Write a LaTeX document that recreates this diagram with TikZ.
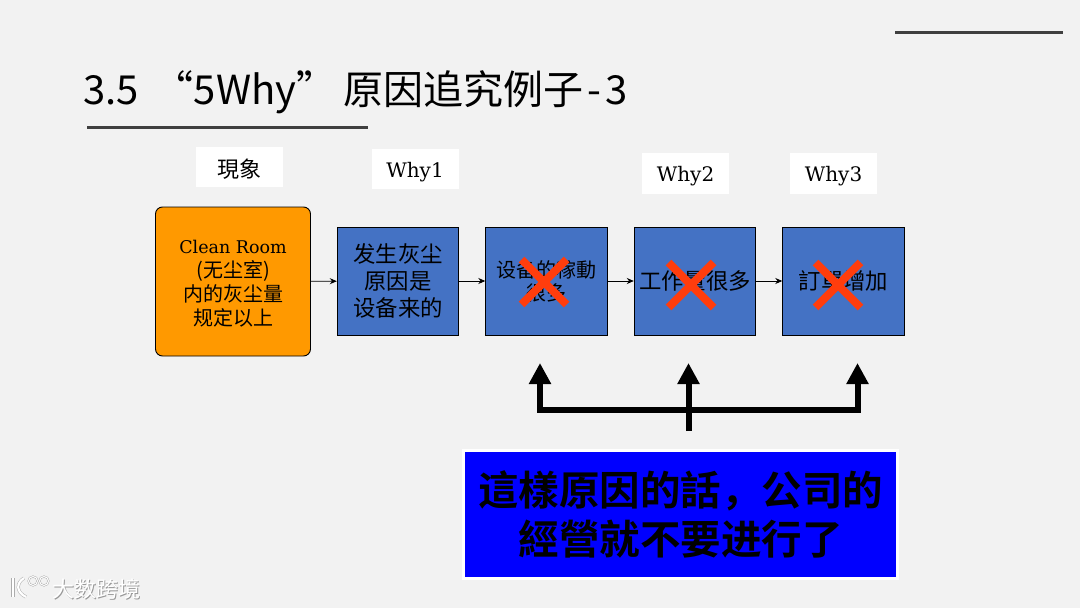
\documentclass[tikz,border=0pt]{standalone}
\usepackage{fontspec}
\usetikzlibrary{arrows.meta,shapes.misc}
\newfontfamily\cjk{Noto Sans CJK SC}
\newfontfamily\cjkbold{Noto Sans CJK SC Bold}
\newfontfamily\whyfont{DejaVu Serif}
\definecolor{slidebg}{HTML}{F2F2F2}
\definecolor{whyblue}{HTML}{4472C4}
\definecolor{factorange}{HTML}{FF9900}
\definecolor{crossred}{HTML}{FF3D0D}
\definecolor{ruledark}{HTML}{3F3F3F}
\begin{document}
\begin{tikzpicture}[x=1pt, y=-1pt, >=stealth,
    labelbox/.style={fill=white, minimum width=87pt, minimum height=40.5pt, inner sep=0pt, font=\whyfont\fontsize{20}{24}\selectfont, execute at begin node={\rule{0pt}{1.05em}}},
    whybox/.style={draw=black, fill=whyblue, line width=0.9pt, minimum width=121.5pt, minimum height=108pt, inner sep=0pt, align=center, font=\cjk\fontsize{22.4}{27}\selectfont},
    redcross/.style={cross out, draw=crossred, line width=8pt, minimum size=45pt, inner sep=0pt, outer sep=0pt},
    flow/.style={-{Stealth[length=7pt,width=6pt]}, line width=0.9pt},
    bigarrow/.style={-{Triangle[width=21pt,length=21pt]}, line width=6pt},
    markshade/.style={draw=black!32, line width=3.2pt},
    markline/.style={draw=white, line width=2.2pt}]
\useasboundingbox (0, 0) rectangle (1080, 608);
\fill[slidebg] (0, 0) rectangle (1080, 608);

% title and rules
\node[anchor=west, inner sep=0pt, font=\cjk\fontsize{40}{48}\selectfont] (title) at (83, 92) {3.5\hspace{0.38em}“5Why”\hspace{7pt}原因追究例子\hspace{4pt}-\hspace{4pt}3};
\draw[ruledark, line width=3pt] (87, 127) -- (368, 127);
\draw[ruledark, line width=3pt] (895, 32) -- (1063, 32);

% labels above the boxes
\node[labelbox, font=\cjk\fontsize{22}{26}\selectfont] (labelFact) at (239.5, 167) {現象};
\node[labelbox] (labelOne) at (415, 169) {Why1};
\node[labelbox] (labelTwo) at (685.5, 173.5) {Why2};
\node[labelbox] (labelThree) at (833.5, 173.5) {Why3};

% boxes
\node[draw=black, fill=factorange, line width=0.9pt, rounded corners=7pt, minimum width=155pt, minimum height=149pt, inner sep=0pt, align=center, font=\cjk\fontsize{20}{24}\selectfont] (fact) at (233, 281.5)
  {{\whyfont\fontsize{17.5}{24}\selectfont\rule{0pt}{0.97em}Clean Room}\\(无尘室)\\内的灰尘量\\规定以上};
\node[whybox, execute at begin node={\rule{0pt}{1.15em}}] (whyOne) at (398, 281) {发生灰尘\\原因是\\设备来的};
\node[whybox, font=\cjk\fontsize{20}{23}\selectfont, execute at begin node={\rule{0pt}{1.2em}}] (whyTwo) at (546.5, 281) {设备的稼動\\很多};
\node[whybox] (whyThree) at (695, 281) {工作量很多};
\node[whybox] (whyFour) at (843.5, 281) {訂單增加};

\draw[flow] (fact) -- (whyOne);
\draw[flow] (whyOne) -- (whyTwo);
\draw[flow] (whyTwo) -- (whyThree);
\draw[flow] (whyThree) -- (whyFour);

% crosses
\node[redcross] (crossTwo) at (544, 282) {};
\node[redcross] (crossThree) at (691, 285) {};
\node[redcross] (crossFour) at (838, 285) {};

% thick arrows
\coordinate (busLeft) at (540, 410);
\coordinate (busRight) at (857.5, 410);
\coordinate (busEnd) at (688.5, 431);
\coordinate (tipLeft) at (540, 363);
\coordinate (tipMid) at (688.5, 363);
\coordinate (tipRight) at (857.5, 363);
\draw[line width=6pt, line cap=rect] (busLeft) -- (busRight);
\draw[bigarrow] (busLeft) -- (tipLeft);
\draw[bigarrow] (busEnd) -- (tipMid);
\draw[bigarrow] (busRight) -- (tipRight);

% bottom box
\node[draw=white, fill=blue, line width=3pt, minimum width=434pt, minimum height=128pt, inner sep=0pt, align=center, font=\cjkbold\fontsize{40.5}{49}\selectfont, execute at begin node={\rule{0pt}{1.13em}}] (verdict) at (680.5, 514.5)
  {這樣原因的話，公司的\\經營就不要进行了};

% watermark
\draw[markshade] (13, 578) -- (13, 597);
\draw[markshade] (24, 578) .. controls (16, 583) and (16, 592) .. (26, 597);
\draw[markshade, line width=2pt] (33, 581) circle (4.5);
\draw[markshade, line width=2pt] (44, 581) circle (4.5);
\draw[markline] (13, 578) -- (13, 597);
\draw[markline] (24, 578) .. controls (16, 583) and (16, 592) .. (26, 597);
\draw[markline, line width=1pt] (33, 581) circle (4.5);
\draw[markline, line width=1pt] (44, 581) circle (4.5);
\node[anchor=west, inner sep=0pt, text=black!40, font=\cjk\fontsize{22}{24}\selectfont] (markShade) at (53.5, 590) {大数跨境};
\node[anchor=west, inner sep=0pt, text=white, font=\cjk\fontsize{22}{24}\selectfont] (mark) at (52.5, 589) {大数跨境};
\end{tikzpicture}
\end{document}
